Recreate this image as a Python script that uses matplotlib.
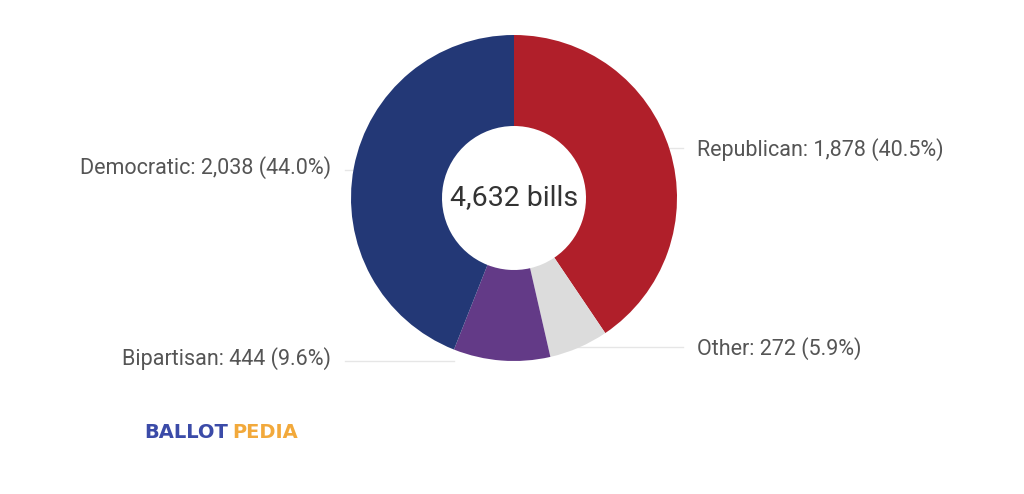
import numpy as np
import matplotlib.pyplot as plt

# ==========================
# Dati
# ==========================

parties = ["Republican", "Other", "Bipartisan", "Democratic"]
bills = [1878, 272, 444, 2038]
percents = [40.5, 5.9, 9.6, 44.0]
colors = ["#B01F2A", "#DCDCDC", "#633A87", "#233876"]
total_label = "4,632 bills"

# posizioni delle etichette (pixel, y dall'alto)
label_y = [150, 349, 359, 168]
label_side = ["right", "right", "left", "left"]

# ==========================
# Figura
# ==========================

plt.rcParams["font.family"] = ["Roboto", "DejaVu Sans"]

W, H = 1024, 494
fig = plt.figure(figsize=(W / 100, H / 100), dpi=100)
ax = fig.add_axes([0, 0, 1, 1])

cx, cy = 514, H - 198
r_out = 163
r_in = 72

ax.pie(bills, colors=colors, startangle=90, counterclock=False,
       center=(cx, cy), radius=r_out,
       wedgeprops=dict(width=r_out - r_in, linewidth=0, zorder=2))
ax.set_xlim(0, W)
ax.set_ylim(0, H)
ax.set_aspect("equal")
ax.axis("off")

ax.text(cx, cy, total_label, ha="center", va="center", fontsize=20.5, color="#333333")

line_color = "#E6E6E6"
for party, n, p, ly, side in zip(parties, bills, percents, label_y, label_side):
    text = f"{party}: {n:,} ({p:.1f}%)"
    y = H - ly
    line_y = y + 2 if side == "right" else y - 2
    dy = abs(line_y - cy)
    dx = np.sqrt(max(r_out ** 2 - dy ** 2, 0))
    if side == "right":
        ax.text(697, y, text, ha="left", va="center", fontsize=15.5, color="#555555")
        x_edge = cx + dx - 10 if dx > 60 else cx + 60
        ax.plot([x_edge, 683], [line_y, line_y], color=line_color, lw=1, zorder=1)
    else:
        ax.text(331, y, text, ha="right", va="center", fontsize=15.5, color="#555555")
        x_edge = cx - dx + 10 if dx > 60 else cx - 60
        ax.plot([345, x_edge], [line_y, line_y], color=line_color, lw=1, zorder=1)

# logo
ax.text(144, H - 432, "BALLOT", ha="left", va="center", fontsize=14,
        fontweight="bold", color="#3B4BA8", family="DejaVu Sans")
ax.text(232, H - 432, "PEDIA", ha="left", va="center", fontsize=14,
        fontweight="bold", color="#F2A93B", family="DejaVu Sans")

fig.savefig("out.png", dpi=100, facecolor="white")
